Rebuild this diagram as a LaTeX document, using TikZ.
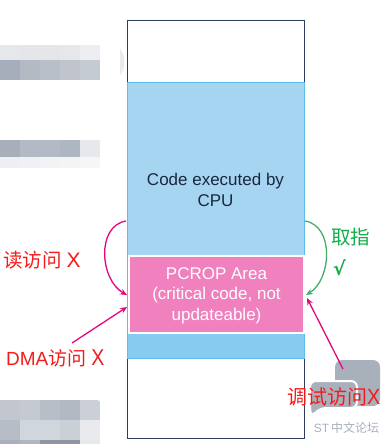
\documentclass[tikz,border=0pt]{standalone}
\usepackage{fontspec}
\setmainfont{Liberation Sans}
\newfontfamily\cjk{Noto Sans CJK SC}
\usetikzlibrary{arrows.meta}
\definecolor{frame}{HTML}{2E3D5C}
\definecolor{bluefill}{HTML}{A6D5F2}
\definecolor{blueband}{HTML}{88CBF1}
\definecolor{blueedge}{HTML}{5BBFEA}
\definecolor{pinkfill}{HTML}{F181BE}
\definecolor{navytext}{HTML}{1A2740}
\definecolor{lblred}{HTML}{F51B1B}
\definecolor{lblgreen}{HTML}{12AE4A}
\definecolor{arrmag}{HTML}{E4087F}
\definecolor{arrgreen}{HTML}{45AE6E}
\definecolor{wmgray}{HTML}{A8B0BC}
\tikzset{
  redlbl/.style={text=lblred, inner sep=0pt, anchor=west},
  greenlbl/.style={text=lblgreen, inner sep=0pt},
  magarrow/.style={draw=arrmag, line width=1.3pt, -{Stealth[length=7pt,width=6pt]}},
  grnarrow/.style={draw=arrgreen, line width=1.3pt, -{Stealth[length=7pt,width=6pt]}},
  boxtext/.style={inner sep=0pt, align=center, font=\fontsize{17}{20.5}\selectfont}
}
\begin{document}
\begin{tikzpicture}[x=1pt,y=-1pt]
\useasboundingbox (0,0) rectangle (389,444);
\fill[white] (0,0) rectangle (389,444);

% ---- blurred mosaic blocks (left) ----
\begin{scope}
  \clip (-10,45) -- (95,45) .. controls (100,45) .. (100,50) -- (100,80) -- (-10,80) -- cycle;
  \foreach \c [count=\i from 0] in {E6E7EB,E4E6EA,E4E6EA,E6E7EB,ECEEF2}
    {\definecolor{tmpc}{HTML}{\c}\fill[tmpc] (\i*20,45) rectangle ++(20.3,15);}
  \foreach \c [count=\i from 0] in {A6AEBB,B3BAC4,B9BFC9,C0C4CC,C5CBD3}
    {\definecolor{tmpc}{HTML}{\c}\fill[tmpc] (\i*20,60) rectangle ++(20.3,20);}
\end{scope}
\fill[black!8] (120,49) .. controls (126,55) and (126,68) .. (120,75) -- cycle;
\begin{scope}
  \clip (-10,140) -- (96,140) .. controls (100,140) .. (100,144) -- (100,163) .. controls (100,168) .. (95,168) -- (-10,168) -- cycle;
  \foreach \c [count=\i from 0] in {A8AFBB,B4BAC5,B4BAC5,AEB6C1,E6E8EC}
    {\definecolor{tmpc}{HTML}{\c}\fill[tmpc] (\i*20,140) rectangle ++(20.3,17);}
  \foreach \c [count=\i from 0] in {EDEFF2,F0F1F4,F2F3F5,F3F4F6,F5F6F8}
    {\definecolor{tmpc}{HTML}{\c}\fill[tmpc] (\i*20,157) rectangle ++(20.3,11);}
\end{scope}
\begin{scope}
  \clip (-10,400) -- (94,400) .. controls (100,400) .. (100,406) -- (100,450) -- (-10,450) -- cycle;
  \foreach \c [count=\i from 0] in {C2C7CF,C5C9D1,B8BEC8,B3B9C2,CBD0D8}
    {\definecolor{tmpc}{HTML}{\c}\fill[tmpc] (\i*20,400) rectangle ++(20.3,20);}
  \foreach \c [count=\i from 0] in {B7BDC6,D1D5DC,D1D5DC,CBD0D7,E8EAEE}
    {\definecolor{tmpc}{HTML}{\c}\fill[tmpc] (\i*20,420) rectangle ++(20.3,20);}
  \foreach \c [count=\i from 0] in {A9B0BC,B0B6C1,8E96A5,8E96A5,E6E8EC}
    {\definecolor{tmpc}{HTML}{\c}\fill[tmpc] (\i*20,440) rectangle ++(20.3,10);}
\end{scope}

% ---- memory column ----
\draw[frame, line width=1pt] (127,21) rectangle (304,438);
\fill[bluefill] (127,82) rectangle (304,358);
\fill[blueband] (127,333) rectangle (304,358);
\draw[blueedge, line width=1pt] (127,82) rectangle (304,358);
\fill[pinkfill, draw=white, line width=1.2pt] (129,256) rectangle (304,333);

\node[boxtext, text=navytext] (cpu) at (215.5,190) {Code executed by\\CPU};
\node[boxtext, text=white] (pcrop) at (216.5,295.5) {PCROP Area\\(critical code, not\\updateable)};

% ---- watermark logo ----
\fill[wmgray, rounded corners=7pt] (335,360) rectangle (380,406);
\fill[wmgray, draw=white, line width=2pt, rounded corners=6pt] (310,381) -- (357,381) -- (357,408) -- (320,408) -- (311,417) -- (310,408) -- cycle;
\node[inner sep=0pt, text=wmgray, font=\fontsize{12}{12}\selectfont] (wm) at (346.5,428) {ST\,{\cjk 中文论坛}};

% ---- labels ----
\node[redlbl] (lread) at (3,260) {\cjk\fontsize{19.5}{20}\selectfont 读访问\hspace{5pt}\rmfamily\fontsize{21}{21}\selectfont X};
\node[redlbl] (ldma) at (6,358) {\fontsize{19}{20}\selectfont DMA{\cjk 访问}\hspace{5pt}\fontsize{23}{23}\selectfont \scalebox{0.85}[1]{X}};
\node[redlbl] (ldbg) at (287,397) {\cjk\fontsize{20}{20}\selectfont 调试访问\rmfamily\fontsize{22}{22}\selectfont \scalebox{0.9}[1]{X}};
\node[greenlbl] (lfetch) at (350.5,237) {\cjk\fontsize{19.5}{20}\selectfont 取指};
\node[greenlbl] (lok) at (339.5,268) {\fontspec{DejaVu Sans}\bfseries\fontsize{19}{20}\selectfont √};

% ---- connectors ----
\coordinate (rs) at (126,221);
\coordinate (re) at (127,295);
\coordinate (gs) at (305,221);
\coordinate (ge) at (306,295);
\coordinate (ds) at (72,343);
\coordinate (de) at (127,307);
\coordinate (bs) at (343,369);
\coordinate (be) at (307,298);
\draw[magarrow] (rs) .. controls (96,226) and (100,280) .. (re);
\draw[grnarrow] (gs) .. controls (335,226) and (331,280) .. (ge);
\draw[magarrow] (ds) -- (de);
\draw[magarrow] (bs) -- (be);
\end{tikzpicture}
\end{document}
